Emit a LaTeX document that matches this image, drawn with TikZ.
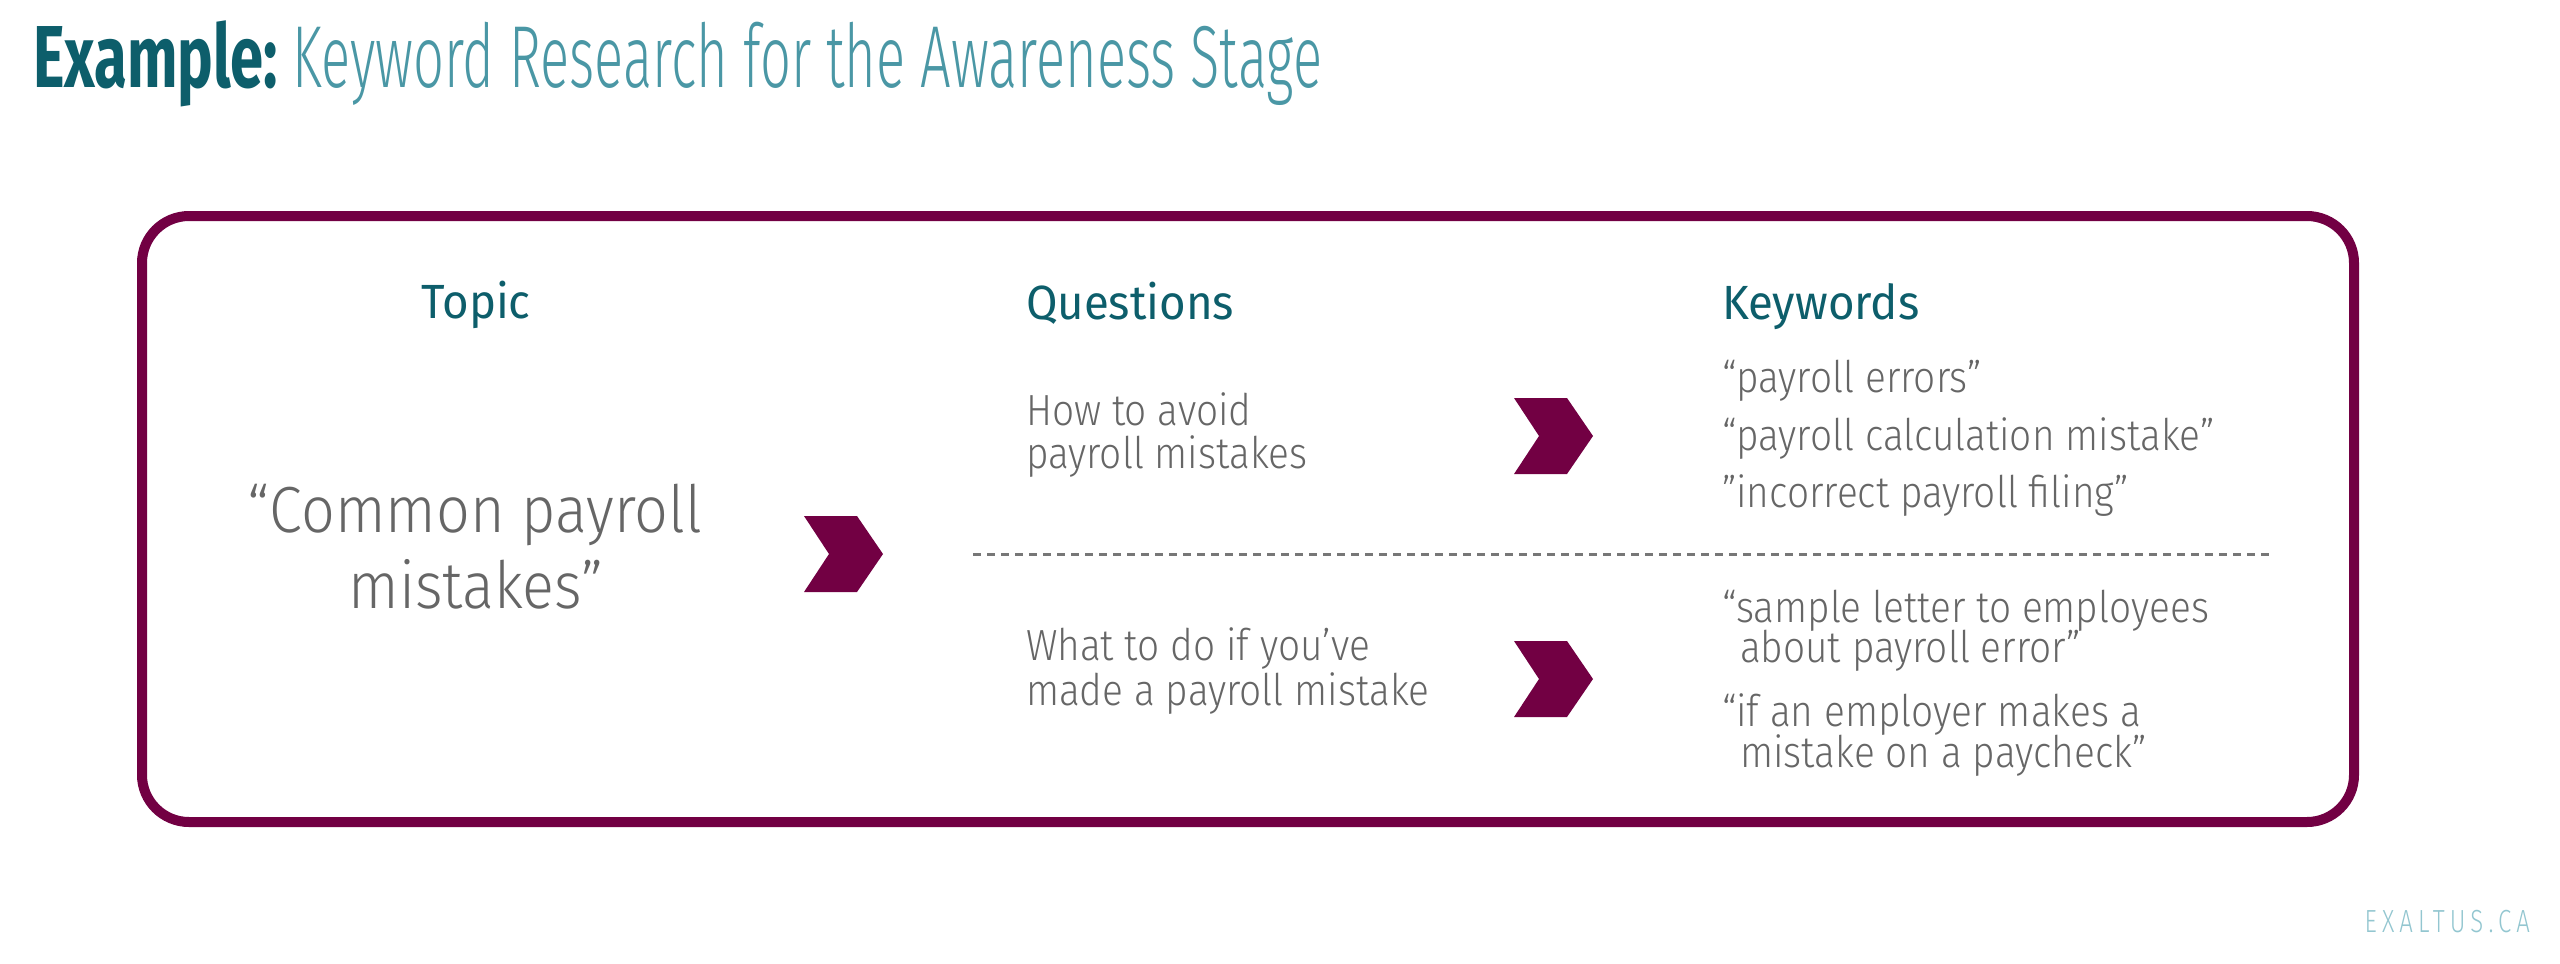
\documentclass[tikz,border=0pt]{standalone}
\usepackage{fontspec}
\setmainfont{Fira Sans Light}
\newfontfamily\hdfont{Fira Sans}[FakeStretch=0.95]
\newfontfamily\bodyfont{Fira Sans Light}[FakeStretch=0.89]
\newfontfamily\topfont{Fira Sans Light}[FakeStretch=0.91]
\newfontfamily\exfont{Fira Sans Bold}[FakeStretch=0.68]
\newfontfamily\ttlfont{Fira Sans Light}[FakeStretch=0.616]
\newfontfamily\ftfont{Fira Sans Light}[FakeStretch=0.75,LetterSpace=16]
\definecolor{maroon}{HTML}{720043}
\definecolor{darkteal}{HTML}{0D5E6B}
\definecolor{lightteal}{HTML}{4A97A5}
\definecolor{txtgray}{HTML}{666666}
\definecolor{dashgray}{HTML}{777777}
\definecolor{foot}{HTML}{93C6D0}
\tikzset{
  x=0.5pt, y=-0.5pt,
  lbl/.style={inner sep=0pt, outer sep=0pt},
  header/.style={lbl, text=darkteal, font=\hdfont\fontsize{24}{28}\selectfont},
  body/.style={lbl, text=txtgray, font=\bodyfont\fontsize{21.8}{26}\selectfont, anchor=base west},
  topictxt/.style={lbl, text=txtgray, font=\topfont\fontsize{32.6}{38}\selectfont, anchor=base},
  frame/.style={draw=maroon, line width=5pt, rounded corners=23.5pt},
  chevron/.style={fill=maroon},
  sep/.style={draw=dashgray, line width=1.5pt, dash pattern=on 4pt off 3pt}
}
\newcommand\chevshape[2]{%
  \fill[chevron] (#1,#2) -- ++(53,0) -- ++(26,38) -- ++(-26,38) -- ++(-53,0) -- ++(25,-38) -- cycle;}
\begin{document}
\begin{tikzpicture}
\useasboundingbox (0,0) rectangle (2560,964);
% title
\node[lbl, anchor=base west, text=darkteal, font=\exfont\fontsize{44}{50}\selectfont] (ex) at (33,87) {Example:};
\node[lbl, anchor=base west, text=lightteal, font=\ttlfont\fontsize{44}{50}\selectfont] (ttl) at (292,87) {Keyword Research for the Awareness Stage};
% frame
\draw[frame] (142,216) rectangle (2354,822);
% headers
\node[header, anchor=base] (topic) at (476,318) {Topic};
\node[header, anchor=base west] (quest) at (1026,319) {Questions};
\node[header, anchor=base west] (keyw) at (1722,319) {Keywords};
% topic
\node[topictxt] (t1) at (475,532) {“Common payroll};
\node[topictxt] (t2) at (476,608) {mistakes”};
% questions
\node[body] (q1a) at (1026,425) {How to avoid};
\node[body] (q1b) at (1026,468) {payroll mistakes};
\node[body] (q2a) at (1026,660) {What to do if you’ve};
\node[body] (q2b) at (1026,705) {made a payroll mistake};
% keywords
\node[body] (k1) at (1722,392) {“payroll errors”};
\node[body] (k2) at (1722,450) {“payroll calculation mistake”};
\node[body] (k3) at (1722,507) {”incorrect payroll filing”};
\node[body] (k4a) at (1722,622) {“sample letter to employees};
\node[body] (k4b) at (1740,662) {about payroll error”};
\node[body] (k5a) at (1722,726) {“if an employer makes a};
\node[body] (k5b) at (1740,767) {mistake on a paycheck”};
% chevrons
\chevshape{804}{516}
\chevshape{1514}{398}
\chevshape{1514}{641}
% separator
\coordinate (s1) at (973,554);
\coordinate (s2) at (2273,554);
\draw[sep] (s1) -- (s2);
% footer
\node[lbl, anchor=base east, text=foot, font=\ftfont\fontsize{16}{20}\selectfont] (ft) at (2530,932) {EXALTUS.CA};
\end{tikzpicture}
\end{document}
